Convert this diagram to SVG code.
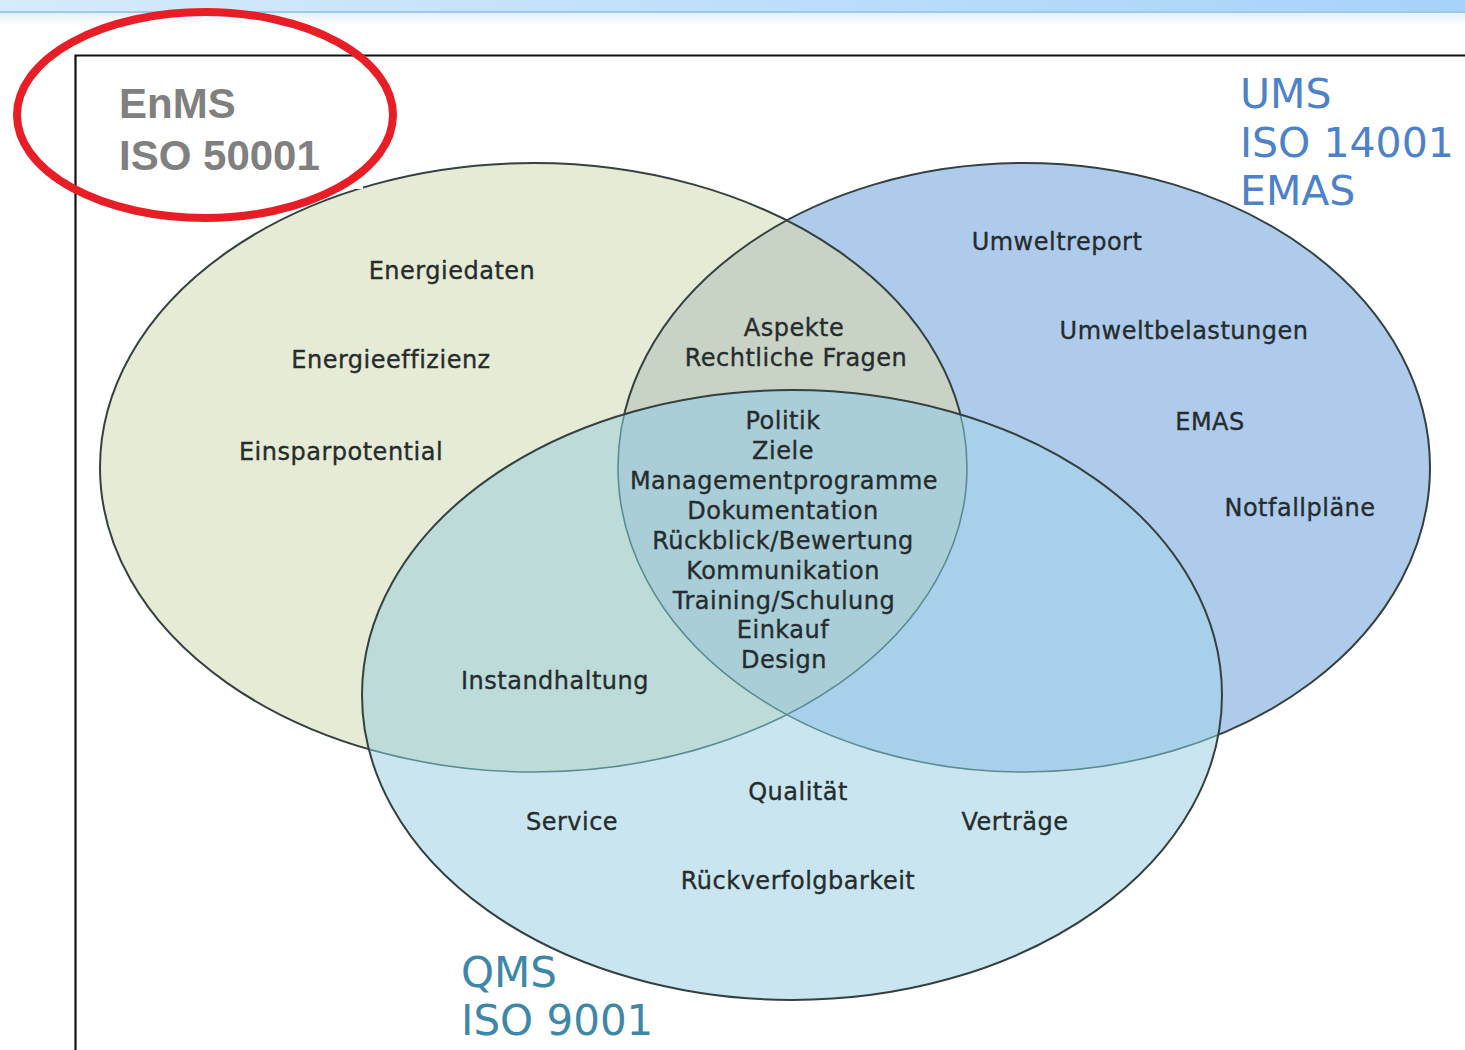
<svg xmlns="http://www.w3.org/2000/svg" width="1465" height="1050" viewBox="0 0 1465 1050">
<style>
.t{font-family:"DejaVu Sans","Verdana",sans-serif;font-size:24px;letter-spacing:0.5px;fill:#262c2d;stroke:#262c2d;stroke-width:0.35px;text-anchor:middle}
.out{fill:none;stroke:#354040;stroke-width:2}
.inner{fill:none;stroke:#5b8c90;stroke-width:1.6}
</style>
<defs>
<linearGradient id="topbar" x1="0" y1="0" x2="1" y2="0">
<stop offset="0" stop-color="#d6ebfc"/>
<stop offset="1" stop-color="#a6d3f9"/>
</linearGradient>
<linearGradient id="fade" x1="0" y1="0" x2="0" y2="1">
<stop offset="0" stop-color="#e6f0f8"/>
<stop offset="1" stop-color="#ffffff"/>
</linearGradient>
<clipPath id="cG"><ellipse cx="533.5" cy="467.5" rx="433.5" ry="304.5"/></clipPath>
<clipPath id="cB"><ellipse cx="1024" cy="467.5" rx="406" ry="304.5"/></clipPath>
<clipPath id="cC"><ellipse cx="792" cy="695" rx="430" ry="305"/></clipPath>
</defs>
<rect width="1465" height="1050" fill="#ffffff"/>
<rect x="0" y="0" width="1465" height="11" fill="url(#topbar)"/>
<rect x="0" y="11" width="1465" height="2" fill="#9dc9ee"/>
<rect x="0" y="13" width="1465" height="13" fill="url(#fade)"/>
<path d="M75.5 1050 V55.5 H1465" fill="none" stroke="#111" stroke-width="2.2"/>

<g id="nodes">
<g id="fills">
<ellipse cx="533.5" cy="467.5" rx="433.5" ry="304.5" fill="#e5ebd5"/>
<ellipse cx="1024" cy="467.5" rx="406" ry="304.5" fill="#aecbec"/>
<ellipse cx="1024" cy="467.5" rx="406" ry="304.5" fill="#c8d2c5" clip-path="url(#cG)"/>
</g>
<g id="outlines-gb">
<ellipse class="out" cx="533.5" cy="467.5" rx="433.5" ry="304.5"/>
<ellipse class="out" cx="1024" cy="467.5" rx="406" ry="304.5"/>
</g>
<g id="qms-fills">
<ellipse cx="792" cy="695" rx="430" ry="305" fill="#c9e6f0"/>
<ellipse cx="792" cy="695" rx="430" ry="305" fill="#bddcd9" clip-path="url(#cG)"/>
<ellipse cx="792" cy="695" rx="430" ry="305" fill="#a9d0ea" clip-path="url(#cB)"/>
<g clip-path="url(#cG)"><ellipse cx="792" cy="695" rx="430" ry="305" fill="#a9ced7" clip-path="url(#cB)"/></g>
<g clip-path="url(#cC)">
<ellipse class="inner" cx="533.5" cy="467.5" rx="433.5" ry="304.5"/>
<ellipse class="inner" cx="1024" cy="467.5" rx="406" ry="304.5"/>
</g>
<ellipse class="out" cx="792" cy="695" rx="430" ry="305"/>
</g>

<g id="enms-label">
<rect x="77" y="57" width="286" height="132" fill="#ffffff"/>
<text x="119" y="118" font-family="Liberation Sans, Arial, sans-serif" font-weight="bold" font-size="42" fill="#808080">EnMS</text>
<text x="119" y="170" font-family="Liberation Sans, Arial, sans-serif" font-weight="bold" font-size="42" fill="#808080">ISO 50001</text>
</g>
<g id="ums-label" font-family="DejaVu Sans, Verdana, sans-serif" font-size="41" fill="#4d82c9">
<text x="1240" y="108">UMS</text>
<text x="1240" y="157">ISO 14001</text>
<text x="1240" y="205">EMAS</text>
</g>
<g id="qms-label" font-family="DejaVu Sans, Verdana, sans-serif" font-size="42" fill="#3f87a8">
<text x="461" y="987">QMS</text>
<text x="461" y="1035">ISO 9001</text>
</g>

<g id="enms-items">
<text class="t" x="452" y="279">Energiedaten</text>
<text class="t" x="391" y="368">Energieeffizienz</text>
<text class="t" x="341" y="460">Einsparpotential</text>
</g>
<g id="enms-ums">
<text class="t" x="794" y="336">Aspekte</text>
<text class="t" x="796" y="366">Rechtliche Fragen</text>
</g>
<g id="common">
<text class="t" x="783" y="429">Politik</text>
<text class="t" x="783" y="459">Ziele</text>
<text class="t" x="784" y="489">Managementprogramme</text>
<text class="t" x="783" y="519">Dokumentation</text>
<text class="t" x="783" y="549">Rückblick/Bewertung</text>
<text class="t" x="783" y="579">Kommunikation</text>
<text class="t" x="784" y="609">Training/Schulung</text>
<text class="t" x="783" y="638">Einkauf</text>
<text class="t" x="784" y="668">Design</text>
</g>
<g id="ums-items">
<text class="t" x="1057" y="250">Umweltreport</text>
<text class="t" x="1184" y="339">Umweltbelastungen</text>
<text class="t" x="1210" y="430">EMAS</text>
<text class="t" x="1300" y="516">Notfallpläne</text>
</g>
<g id="enms-qms">
<text class="t" x="555" y="689">Instandhaltung</text>
</g>
<g id="qms-items">
<text class="t" x="798" y="800">Qualität</text>
<text class="t" x="572" y="830">Service</text>
<text class="t" x="1015" y="830">Verträge</text>
<text class="t" x="798" y="889">Rückverfolgbarkeit</text>
</g>

<g id="highlight">
<ellipse cx="205" cy="115" rx="188" ry="103" fill="none" stroke="#e81e26" stroke-width="8"/>
</g>
</g>
<g id="connectors"/>
</svg>
